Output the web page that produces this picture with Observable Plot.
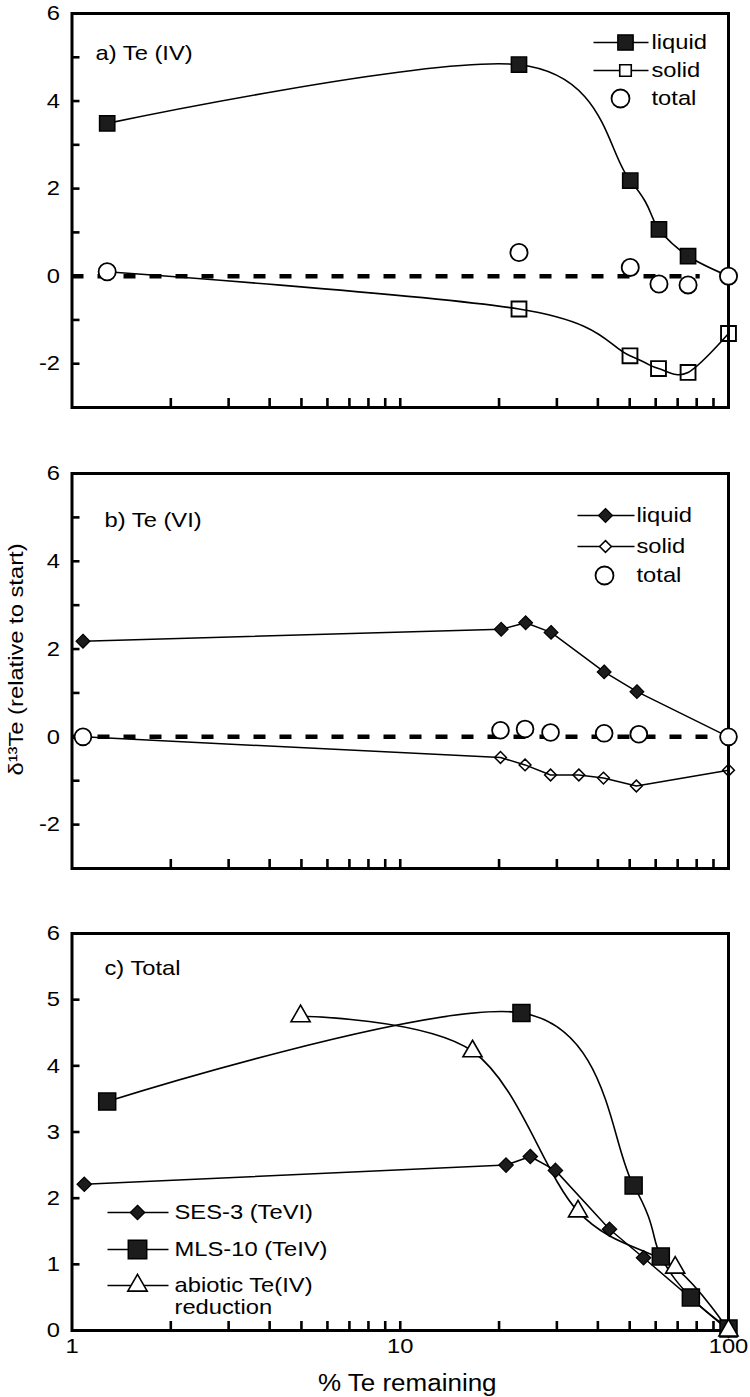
<!DOCTYPE html>
<html><head><meta charset="utf-8">
<script src="https://cdn.jsdelivr.net/npm/d3@7"></script>
<script src="https://cdn.jsdelivr.net/npm/@observablehq/plot@0.6"></script>
<style>
html,body{margin:0;padding:0;background:#fff;}
#wrap{position:relative;width:750px;height:1397px;background:#fff;overflow:hidden}
#wrap svg{position:absolute;left:0}
</style></head><body><div id="wrap"></div>
<script>
// ---------- shared axis values ----------
const xTicksMinor = [2,3,4,5,6,7,8,9,10,20,30,40,50,60,70,80,90];
const xTickLabels = [1,10,100];
const yTicksAB = [-2,-1,0,1,2,3,4,5];
const yLabelsAB = [-2,0,2,4,6];
const yTicksC = [1,2,3,4,5];
const yLabelsC = [0,1,2,3,4,5,6];

// ---------- panel a) Te (IV) ----------
const aLiquidX = [1.28, 23, 50.2, 61.4, 75.3, 100];
const aLiquidY = [3.49, 4.83, 2.18, 1.07, 0.46, 0];
const aSolidX  = [1.28, 23, 50.1, 61.2, 75.3, 100];
const aSolidY  = [0.1, -0.75, -1.82, -2.11, -2.2, -1.31];
const aTotalX  = [1.28, 23, 50.2, 61.4, 75.3, 100];
const aTotalY  = [0.1, 0.54, 0.2, -0.18, -0.2, 0];
const aZeroSpan = [1, 82];

// ---------- panel b) Te (VI) ----------
const bLiquidX = [1.08, 20.3, 24.1, 28.8, 41.8, 52.6, 100];
const bLiquidY = [2.18, 2.45, 2.6, 2.38, 1.48, 1.03, 0];
const bSolidX  = [1.08, 20.2, 24.0, 28.7, 35.0, 41.6, 52.4, 100];
const bSolidY  = [0, -0.47, -0.64, -0.87, -0.87, -0.94, -1.12, -0.76];
const bTotalX  = [1.08, 20.2, 24.0, 28.7, 41.8, 53.3, 100];
const bTotalY  = [0, 0.15, 0.18, 0.1, 0.08, 0.06, 0];
const bZeroSpan = [1, 95];

// ---------- panel c) Total ----------
const cSesX = [1.09, 21.0, 24.9, 29.7, 43.4, 55.1, 100];
const cSesY = [2.21, 2.5, 2.63, 2.42, 1.53, 1.1, 0];
const cMlsX = [1.28, 23.4, 51.4, 62.2, 76.8, 100];
const cMlsY = [3.46, 4.8, 2.19, 1.12, 0.5, 0.03];
const cAbioX = [4.97, 16.6, 34.8, 68.8, 100];
const cAbioY = [4.75, 4.22, 1.8, 0.95, 0];

const labelsA = ["liquid", "solid", "total"];
const labelsB = ["liquid", "solid", "total"];
const labelsC = ["SES-3 (TeVI)", "MLS-10 (TeIV)", "abiotic Te(IV)", "reduction"];
const panelTitles = ["a) Te (IV)", "b) Te (VI)", "c) Total"];
const yTitle = "δ¹³Te (relative to start)";
const xTitle = "% Te remaining";

// ---------- helpers ----------
const W = 750, ML = 71.5, MR = 22;
const FONT = "'Liberation Sans', Arial, Helvetica, sans-serif";
const FS = 21;
const pts = (xs, ys) => xs.map((x, i) => ({x, y: ys[i]}));
const hline = L => ({draw(ctx) { ctx.moveTo(-L / 2, 0); ctx.lineTo(L / 2, 0); }});
const FILL = "#1c1c1c";
const SMOOTH = {curve: "cardinal", tension: 0};

function legendEntry(label, {lineCx, L, mx, tx, cy, top, symbol, r, fill, stroke = "black", sw = 1.6, line = true}) {
  const m = [];
  if (line) m.push(Plot.dot([label], {frameAnchor: "top-left", dx: lineCx - ML, dy: cy - top, symbol: hline(L), r: 5, stroke: "black", strokeWidth: 1.6, fill: "none"}));
  if (symbol) m.push(Plot.dot([label], {frameAnchor: "top-left", dx: mx - ML, dy: cy - top, symbol, r, fill, stroke, strokeWidth: sw}));
  m.push(Plot.text([label], {frameAnchor: "top-left", dx: tx - ML, dy: cy - top, textAnchor: "start", lineAnchor: "middle", fontSize: FS, fill: "black"}));
  return m;
}

function panel({height, mt, mb, yDomain, yTicks, yLabels, marks, xAxis}) {
  const fw = W - ML - MR, fh = height - mt - mb;
  return Plot.plot({
    width: W, height, marginLeft: ML, marginRight: MR, marginTop: mt, marginBottom: mb,
    style: {fontFamily: FONT, fontSize: FS + "px", color: "black", background: "transparent", overflow: "visible"},
    x: {type: "log", domain: [1, 100], axis: xAxis ? undefined : null},
    y: {domain: yDomain},
    marks: [
      Plot.frame({stroke: "black", strokeWidth: 3}),
      Plot.tickY(yTicks, {y: d => d, insetRight: fw - 8, stroke: "black", strokeWidth: 2.6}),
      Plot.tickX(xTicksMinor, {x: d => d, insetTop: fh - 9, stroke: "black", strokeWidth: 2.6}),
      Plot.axisY(yLabels, {tickSize: 0, tickPadding: 12, tickFormat: d => String(d), fontSize: FS, label: null}),
      xAxis ? Plot.axisX(xTickLabels, {tickSize: 0, tickPadding: 8, tickFormat: d => String(d), fontSize: FS, label: null}) : null,
      ...marks
    ]
  });
}

// ---------- panel a ----------
const topA = 13;
const svgA = panel({
  height: 440, mt: topA, mb: 440 - 407, yDomain: [-3, 6], yTicks: yTicksAB, yLabels: yLabelsAB,
  marks: [
    Plot.ruleY([0], {x1: aZeroSpan[0], x2: aZeroSpan[1], stroke: "black", strokeWidth: 4.5, strokeDasharray: "12,14"}),
    Plot.line(pts(aLiquidX, aLiquidY), {x: "x", y: "y", ...SMOOTH, stroke: "black", strokeWidth: 1.6}),
    Plot.line(pts(aSolidX, aSolidY), {x: "x", y: "y", ...SMOOTH, stroke: "black", strokeWidth: 1.6}),
    Plot.dot(pts(aLiquidX, aLiquidY).slice(0, -1), {x: "x", y: "y", symbol: "square", r: 8.6, fill: FILL, stroke: "black", strokeWidth: 1.5}),
    Plot.dot(pts(aSolidX, aSolidY).slice(1), {x: "x", y: "y", symbol: "square", r: 8.4, fill: "none", stroke: "black", strokeWidth: 1.9}),
    Plot.dot(pts(aTotalX, aTotalY), {x: "x", y: "y", r: 8.6, fill: "white", stroke: "black", strokeWidth: 1.8}),
    Plot.text([panelTitles[0]], {frameAnchor: "top-left", dx: 95 - ML, dy: 53 - topA, textAnchor: "start", lineAnchor: "middle", fontSize: FS}),
    ...legendEntry(labelsA[0], {lineCx: 620.5, L: 55, mx: 625, tx: 651, cy: 42, top: topA, symbol: "square", r: 8.6, fill: FILL, sw: 1.5}),
    ...legendEntry(labelsA[1], {lineCx: 620.5, L: 55, mx: 625, tx: 651, cy: 70, top: topA, symbol: "square", r: 6.5, fill: "white", sw: 1.6}),
    ...legendEntry(labelsA[2], {lineCx: 620.5, L: 55, mx: 620, tx: 651, cy: 98, top: topA, symbol: "circle", r: 9, fill: "white", sw: 1.8, line: false})
  ]
});

// ---------- panel b ----------
const topB = 33; // within svg B (svg top 440)
const svgB = panel({
  height: 460, mt: topB, mb: 460 - 428, yDomain: [-3, 6], yTicks: yTicksAB, yLabels: yLabelsAB,
  marks: [
    Plot.ruleY([0], {x1: bZeroSpan[0], x2: bZeroSpan[1], stroke: "black", strokeWidth: 4.5, strokeDasharray: "12,14"}),
    Plot.line(pts(bLiquidX, bLiquidY), {x: "x", y: "y", stroke: "black", strokeWidth: 1.5}),
    Plot.line(pts(bSolidX, bSolidY), {x: "x", y: "y", stroke: "black", strokeWidth: 1.5}),
    Plot.dot(pts(bLiquidX, bLiquidY).slice(0, -1), {x: "x", y: "y", symbol: d3.symbolDiamond2, r: 6.2, fill: FILL, stroke: "black", strokeWidth: 1.2}),
    Plot.dot(pts(bSolidX, bSolidY).slice(1), {x: "x", y: "y", symbol: d3.symbolDiamond2, r: 5.3, fill: "none", stroke: "black", strokeWidth: 1.5}),
    Plot.dot(pts(bTotalX, bTotalY), {x: "x", y: "y", r: 8.4, fill: "white", stroke: "black", strokeWidth: 1.8}),
    Plot.text([panelTitles[1]], {frameAnchor: "top-left", dx: 104 - ML, dy: 520 - 440 - topB, textAnchor: "start", lineAnchor: "middle", fontSize: FS}),
    Plot.text([yTitle], {frameAnchor: "left", dx: 16 - ML, dy: 659 - 670.5, rotate: -90, textAnchor: "middle", lineAnchor: "middle", fontSize: FS}),
    ...legendEntry(labelsB[0], {lineCx: 605.5, L: 57, mx: 605, tx: 636, cy: 515 - 440, top: topB, symbol: d3.symbolDiamond2, r: 6.3, fill: FILL, sw: 1.2}),
    ...legendEntry(labelsB[1], {lineCx: 605.5, L: 57, mx: 605, tx: 636, cy: 546 - 440, top: topB, symbol: d3.symbolDiamond2, r: 5.3, fill: "white", sw: 1.5}),
    ...legendEntry(labelsB[2], {lineCx: 605.5, L: 57, mx: 604, tx: 636, cy: 575 - 440, top: topB, symbol: "circle", r: 9, fill: "white", sw: 1.8, line: false})
  ]
});

// ---------- panel c ----------
const topC = 33; // svg top 900
const svgC = panel({
  height: 497, mt: topC, mb: 497 - 430, yDomain: [0, 6], yTicks: yTicksC, yLabels: yLabelsC, xAxis: true,
  marks: [
    Plot.line(pts(cSesX, cSesY), {x: "x", y: "y", stroke: "black", strokeWidth: 1.5}),
    Plot.line(pts(cMlsX, cMlsY), {x: "x", y: "y", ...SMOOTH, stroke: "black", strokeWidth: 1.6}),
    Plot.line(pts(cAbioX, cAbioY), {x: "x", y: "y", ...SMOOTH, stroke: "black", strokeWidth: 1.6}),
    Plot.dot(pts(cSesX, cSesY), {x: "x", y: "y", symbol: d3.symbolDiamond2, r: 6.5, fill: FILL, stroke: "black", strokeWidth: 1.2}),
    Plot.dot(pts(cMlsX, cMlsY), {x: "x", y: "y", symbol: "square", r: 9.6, fill: FILL, stroke: "black", strokeWidth: 1.5}),
    Plot.dot(pts(cAbioX, cAbioY), {x: "x", y: "y", symbol: "triangle", r: 7.1, fill: "white", stroke: "black", strokeWidth: 1.6}),
    Plot.text([panelTitles[2]], {frameAnchor: "top-left", dx: 104 - ML, dy: 968 - 900 - topC, textAnchor: "start", lineAnchor: "middle", fontSize: FS}),
    Plot.text([xTitle], {frameAnchor: "bottom", dx: 7, dy: 1383 - 1330, textAnchor: "middle", lineAnchor: "middle", fontSize: 23}),
    ...legendEntry(labelsC[0], {lineCx: 137.5, L: 61, mx: 137, tx: 174, cy: 1212 - 900, top: topC, symbol: d3.symbolDiamond2, r: 6.5, fill: FILL, sw: 1.2}),
    ...legendEntry(labelsC[1], {lineCx: 137.5, L: 61, mx: 137, tx: 174, cy: 1249 - 900, top: topC, symbol: "square", r: 10.4, fill: FILL, sw: 1.5}),
    ...legendEntry(labelsC[2], {lineCx: 137.5, L: 61, mx: 137, tx: 174, cy: 1285 - 900, top: topC, symbol: "triangle", r: 7.2, fill: "white", sw: 1.6}),
    Plot.text([labelsC[3]], {frameAnchor: "top-left", dx: 174 - ML, dy: 1307 - 900 - topC, textAnchor: "start", lineAnchor: "middle", fontSize: FS})
  ]
});

const wrap = document.getElementById("wrap");
[[svgA, 0], [svgB, 440], [svgC, 900]].forEach(([s, t]) => { s.style.top = t + "px"; wrap.appendChild(s); });

// horizontal widening of glyphs, as in the reference typeface
wrap.querySelectorAll("text").forEach(t => {
  if (t.querySelector("tspan")) return;
  const L = t.getComputedTextLength();
  if (L > 0) { t.setAttribute("textLength", (L * 1.13).toFixed(2)); t.setAttribute("lengthAdjust", "spacingAndGlyphs"); }
});
</script></body></html>
